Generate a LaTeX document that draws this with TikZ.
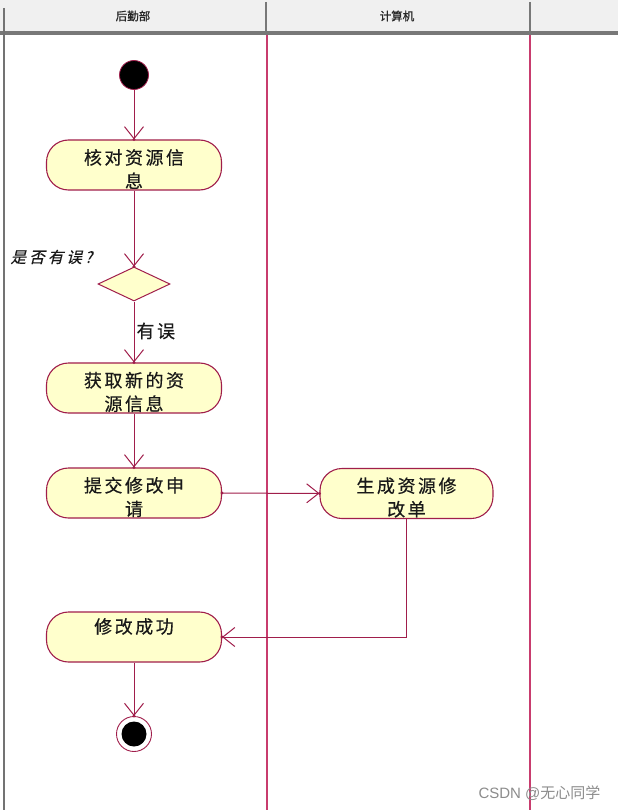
\documentclass[tikz,border=0pt]{standalone}
\usepackage{fontspec}
\usetikzlibrary{arrows.meta,shapes.geometric}
\newfontfamily\cjk{Noto Sans CJK SC}[LetterSpace=14,FakeBold=0.5]
\newfontfamily\cjkhead{Noto Sans CJK SC}[FakeBold=1.2]
\newfontfamily\cjkwm{Noto Sans CJK SC}
\newfontfamily\cjkit{Noto Sans CJK SC}[FakeSlant=0.25,LetterSpace=20,FakeBold=0.4]
\newfontfamily\wmfont{Liberation Sans}
\definecolor{lnc}{RGB}{160,30,75}
\definecolor{lanec}{RGB}{200,60,110}
\definecolor{actfill}{RGB}{255,255,204}
\definecolor{hdrfill}{RGB}{240,240,240}
\definecolor{hdrline}{RGB}{120,120,120}
\begin{document}
\begin{tikzpicture}[x=1pt,y=-1pt,
  act/.style={draw=lnc,fill=actfill,line width=1.1pt,rounded corners=22pt,
    minimum width=175pt,minimum height=50pt,inner sep=0pt},
  acttext/.style={align=center,inner sep=0pt,yshift=-4pt,
    font=\cjk\fontsize{18}{23.5}\selectfont,text=black!90},
  flow/.style={draw=lnc,line width=1pt,-{Straight Barb[length=12pt,width=19pt,line width=1pt]}},
  hdr/.style={font=\cjkhead\fontsize{11.5}{13}\selectfont,text=black!85},
  lbl/.style={font=\cjk\fontsize{18}{20}\selectfont,text=black!90}]
\useasboundingbox (0,0) rectangle (618,810);
\fill[white] (0,0) rectangle (618,810);
% header
\fill[hdrfill] (0,0) rectangle (618,31);
\fill[hdrline] (0,31) rectangle (618,35);
\draw[hdrline,line width=2pt] (266,2) -- (266,31);
\draw[hdrline,line width=2pt] (530,2) -- (530,31);
\draw[black!55,line width=2pt] (4,8) -- (4,810);
\node[hdr] (h1) at (133,16) {后勤部};
\node[hdr] (h2) at (397,16) {计算机};
% lanes
\draw[lanec,line width=1.3pt] (267,35) -- (267,810);
\draw[lanec,line width=1.3pt] (530,35) -- (530,810);
% nodes
\node[circle,fill=black,draw=lnc,line width=0.8pt,minimum size=29pt,inner sep=0pt] (start) at (134,75) {};
\node[act] (a1) at (134,165) {};
\node[acttext] (t1) at (a1) {核对资源信\\息};
\node[diamond,draw=lnc,fill=actfill,line width=1pt,minimum width=72pt,minimum height=34pt,inner sep=0pt] (dec) at (134,284) {};
\node[act] (a2) at (134,388) {};
\node[acttext] (t2) at (a2) {获取新的资\\源信息};
\node[act] (a3) at (134,493) {};
\node[acttext] (t3) at (a3) {提交修改申\\请};
\node[act,minimum width=173pt] (a4) at (406.5,493.5) {};
\node[acttext] (t4) at (a4) {生成资源修\\改单};
\node[act] (a5) at (134,637) {};
\node[acttext] (t5) at (a5) {修改成功\\\strut};
\node[circle,draw=lnc,fill=white,line width=0.9pt,minimum size=35pt,inner sep=0pt] (end) at (134,734) {};
\node[circle,fill=black,minimum size=25pt,inner sep=0pt] (endin) at (134,734) {};
% labels
\node[font=\cjkit\fontsize{15.5}{18}\selectfont,text=black!90,anchor=west] (q) at (7,257) {是否有误?};
\node[lbl,anchor=west] (yes) at (133,331) {有误};
% connectors
\draw[flow] (start) -- (a1);
\draw[flow] (a1) -- (dec);
\draw[flow] (dec) -- (a2);
\draw[flow] (a2) -- (a3);
\draw[flow] (a3) -- (a4);
\draw[flow] (a4.south) -- (a4.south |- a5.east) -- (a5.east);
\draw[flow] (a5) -- (end);
% tip dots
\foreach \p in {a1.north,dec.north,a2.north,a3.north,a4.west,a5.east,end.north,a3.east}
  \fill[lnc] (\p) circle (1.6pt);
% watermark
\node[font=\wmfont\fontsize{15}{18}\selectfont,text=black!45,anchor=east] (wm) at (604,793) {CSDN @{\cjkwm 无心同学}};
\end{tikzpicture}
\end{document}
